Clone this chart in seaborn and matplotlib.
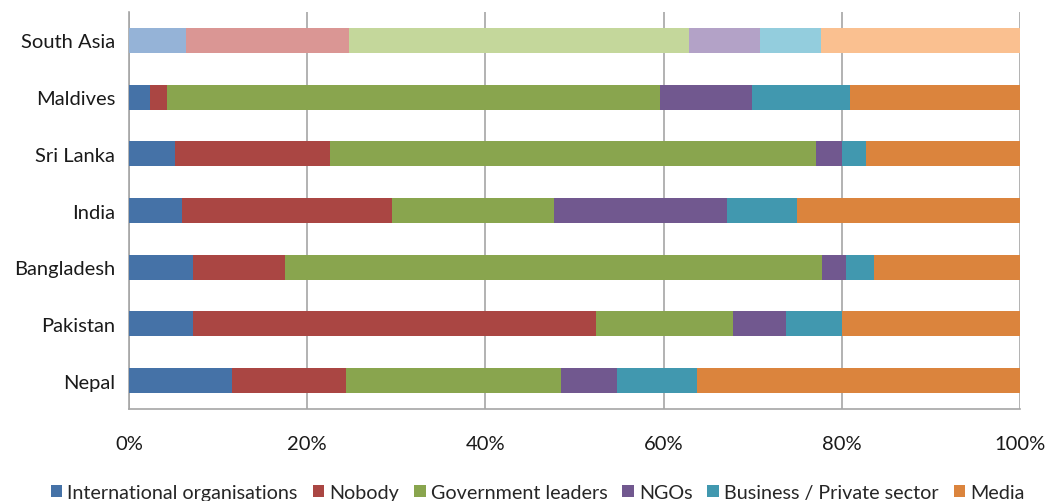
import matplotlib
matplotlib.use("Agg")
import numpy as np
import pandas as pd
import matplotlib.pyplot as plt
import seaborn as sns
from matplotlib.patches import Patch
from matplotlib.ticker import FixedLocator, PercentFormatter

# --- Data (share of responses, %) ---
countries = ["South Asia", "Maldives", "Sri Lanka", "India", "Bangladesh", "Pakistan", "Nepal"]
series = ["International organisations", "Nobody", "Government leaders", "NGOs",
          "Business / Private sector", "Media"]

intl_orgs = [6.4, 2.4, 5.2, 5.9, 7.2, 7.2, 11.6]
nobody = [18.3, 1.9, 17.4, 23.6, 10.3, 45.2, 12.8]
gov_leaders = [38.2, 55.3, 54.5, 18.2, 60.3, 15.4, 24.1]
ngos = [7.9, 10.3, 2.9, 19.4, 2.7, 5.9, 6.3]
business = [6.9, 11.0, 2.7, 7.9, 3.1, 6.3, 9.0]
media = [22.3, 19.1, 17.3, 25.0, 16.4, 20.0, 36.2]

# Excel-style colours; South Asia row uses lighter tints
colors = ["#4572A7", "#AA4643", "#89A54E", "#71588F", "#4198AF", "#DB843D"]
light_colors = ["#95B3D7", "#DA9694", "#C4D79B", "#B3A2C7", "#93CDDD", "#FAC090"]

df = pd.DataFrame({"country": countries})
for name, vals in zip(series, [intl_orgs, nobody, gov_leaders, ngos, business, media]):
    df[name] = vals
cum = df[series].cumsum(axis=1)

sns.set_style("white")
plt.rcParams["font.family"] = ["Lato", "DejaVu Sans"]

fig = plt.figure(figsize=(10.48, 5.02), dpi=100)
ax = fig.add_axes([129 / 1048, 1 - 410 / 502, 891 / 1048, 397 / 502])

# stacked bars: draw cumulative totals from the outermost segment inwards
for i in reversed(range(len(series))):
    pal = {c: (light_colors[i] if c == "South Asia" else colors[i]) for c in countries}
    sns.barplot(x=cum[series[i]], y=df["country"], hue=df["country"], palette=pal,
                legend=False, width=0.44, saturation=1, orient="h", ax=ax, zorder=3,
                linewidth=0)

ax.set_xlim(0, 100)
ax.set_ylim(6.5, -0.5)
ax.set_xlabel("")
ax.set_ylabel("")
ax.xaxis.set_major_locator(FixedLocator([0, 20, 40, 60, 80, 100]))
ax.xaxis.set_major_formatter(PercentFormatter(decimals=0))
ax.grid(axis="x", color="#A6A6A6", linewidth=1.2, zorder=0)
ax.grid(axis="y", visible=False)

for s in ["top", "right"]:
    ax.spines[s].set_visible(False)
for s in ["left", "bottom"]:
    ax.spines[s].set_color("#A6A6A6")
    ax.spines[s].set_linewidth(1.2)

ax.yaxis.set_minor_locator(FixedLocator(np.arange(-0.5, 7, 1)))
ax.tick_params(axis="y", which="major", length=0, pad=10, labelsize=14.5, labelcolor="#1a1a1a")
ax.tick_params(axis="y", which="minor", length=7, width=1.2, color="#A6A6A6", direction="out")
ax.tick_params(axis="x", which="major", length=6, width=1.2, color="#A6A6A6", direction="out",
               pad=13, labelsize=14.5, labelcolor="#1a1a1a")

handles = [Patch(facecolor=c, edgecolor="none", label=s) for c, s in zip(colors, series)]
fig.legend(handles=handles, loc="lower center", bbox_to_anchor=(0.513, -0.035), ncol=6,
           frameon=False, fontsize=14.2, handlelength=0.6, handleheight=0.6,
           handletextpad=0.25, columnspacing=0.75)

fig.savefig("out.png", dpi=100)
